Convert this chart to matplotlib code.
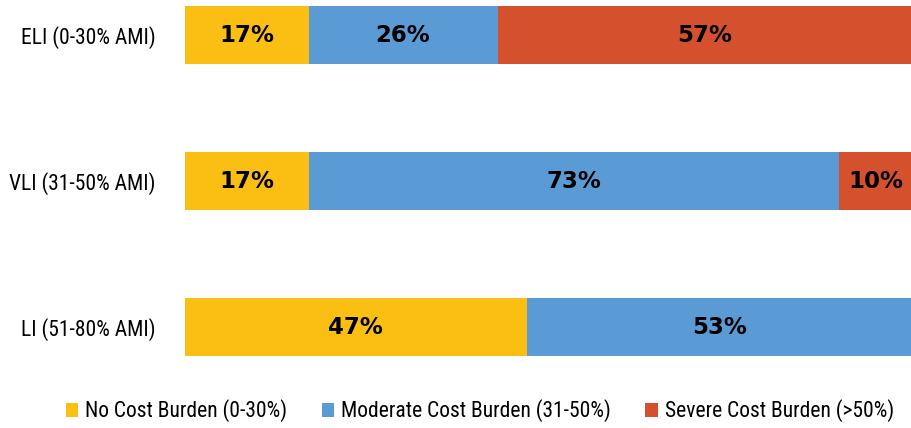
import matplotlib
matplotlib.use("Agg")
import matplotlib.pyplot as plt
from matplotlib.patches import Patch
from matplotlib import font_manager

categories = ["ELI (0-30% AMI)", "VLI (31-50% AMI)", "LI (51-80% AMI)"]
series_names = ["No Cost Burden (0-30%)", "Moderate Cost Burden (31-50%)", "Severe Cost Burden (>50%)"]
no_burden = [17, 17, 47]
moderate = [26, 73, 53]
severe = [57, 10, 0]
colors = ["#FBBE12", "#5B9BD5", "#D5502C"]

names = {f.name for f in font_manager.fontManager.ttflist}
label_font = "Liberation Sans"
narrow = False
for cand in ["Liberation Sans Narrow", "Roboto Condensed", "Open Sans Condensed", "Arial Narrow"]:
    if cand in names:
        label_font = cand
        narrow = True
        break
tick_size = 15.5 if narrow else 12
leg_size = 15.5 if narrow else 11.5

fig = plt.figure(figsize=(9.12, 4.28), dpi=100)
ax = fig.add_axes([185/912, 1 - 371/428, 1 - 185/912, 371/428])

ypos = [2, 1, 0]
left = [0, 0, 0]
for vals, col in zip([no_burden, moderate, severe], colors):
    ax.barh(ypos, vals, left=left, height=0.4, color=col)
    for y, l, v in zip(ypos, left, vals):
        if v > 0:
            ax.text(l + v / 2, y, f"{v}%", ha="center", va="center",
                    fontsize=16.5, fontweight="bold", color="black", family="DejaVu Sans")
    left = [a + b for a, b in zip(left, vals)]

ax.set_xlim(0, 100)
ax.set_ylim(-0.3, 2.24)
ax.set_yticks(ypos)
ax.set_yticklabels(categories, fontsize=tick_size, family=label_font)
ax.tick_params(axis="y", length=0, pad=21)
ax.set_xticks([])
for s in ax.spines.values():
    s.set_visible(False)

handles = [Patch(facecolor=c, label=n) for c, n in zip(colors, series_names)]
fig.legend(handles=handles, loc="center", bbox_to_anchor=(0.526, 0.04), ncol=3,
           frameon=False, prop={"family": label_font, "size": leg_size},
           handlelength=0.6, handleheight=0.6, handletextpad=0.3, columnspacing=1.6)

fig.savefig("out.png", dpi=100)
